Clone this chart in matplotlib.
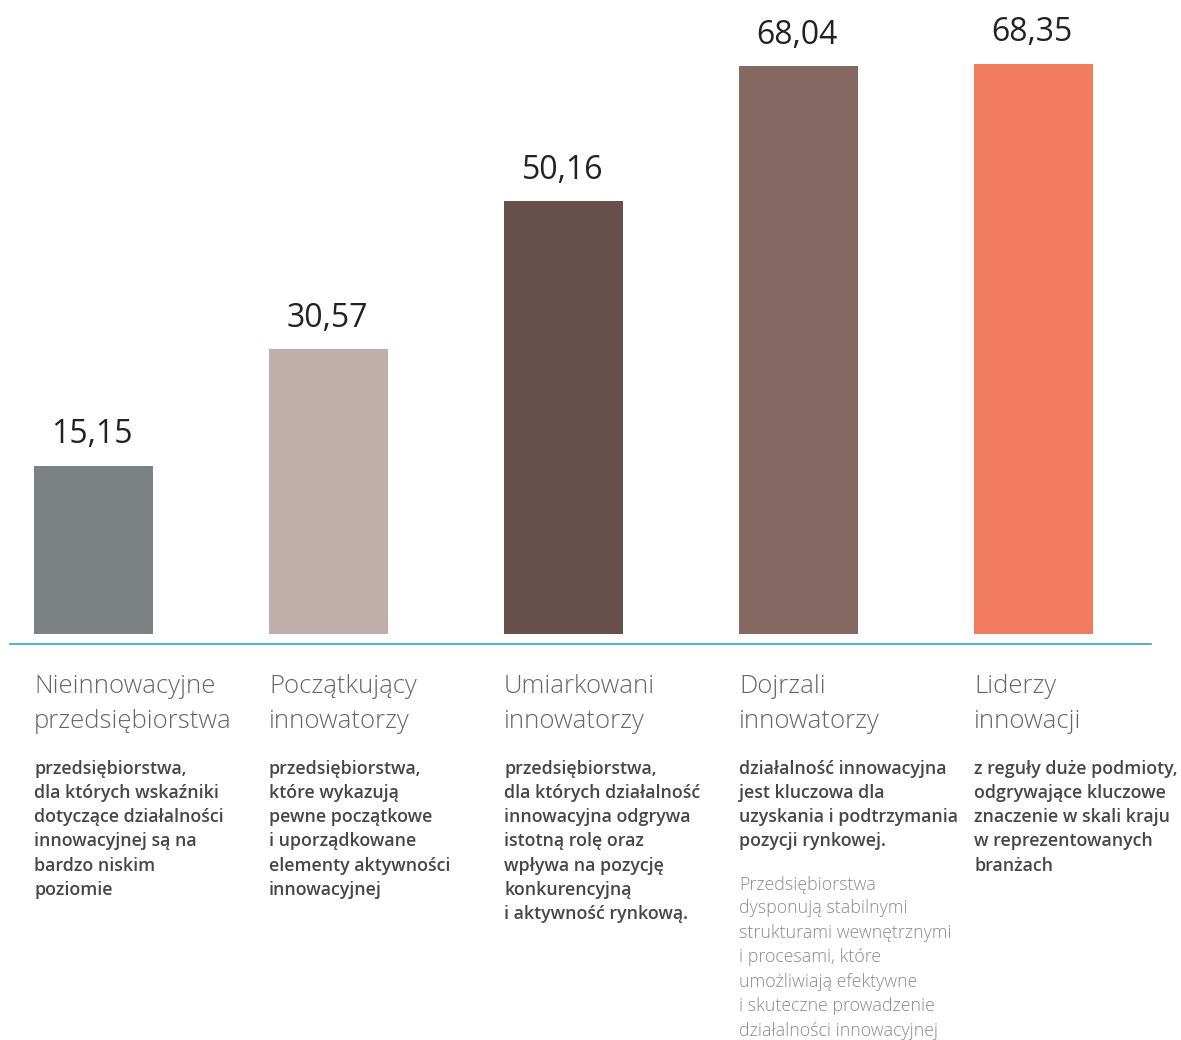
import matplotlib
matplotlib.use("Agg")
import matplotlib.pyplot as plt
from matplotlib.lines import Line2D

# ---- data ----
categories = ["Nieinnowacyjne\nprzedsiębiorstwa", "Początkujący\ninnowatorzy",
              "Umiarkowani\ninnowatorzy", "Dojrzali\ninnowatorzy", "Liderzy\ninnowacji"]
values = [15.15, 30.57, 50.16, 68.04, 68.35]
value_labels = ["15,15", "30,57", "50,16", "68,04", "68,35"]
descriptions = [
    "przedsiębiorstwa,\ndla których wskaźniki\ndotyczące działalności\ninnowacyjnej są na\nbardzo niskim\npoziomie",
    "przedsiębiorstwa,\nktóre wykazują\npewne początkowe\ni uporządkowane\nelementy aktywności\ninnowacyjnej",
    "przedsiębiorstwa,\ndla których działalność\ninnowacyjna odgrywa\nistotną rolę oraz\nwpływa na pozycję\nkonkurencyjną\ni aktywność rynkową.",
    "działalność innowacyjna\njest kluczowa dla\nuzyskania i podtrzymania\npozycji rynkowej.",
    "z reguły duże podmioty,\nodgrywające kluczowe\nznaczenie w skali kraju\nw reprezentowanych\nbranżach",
]
extra_note = {3: "Przedsiębiorstwa\ndysponują stabilnymi\nstrukturami wewnętrznymi\ni procesami, które\numożliwiają efektywne\ni skuteczne prowadzenie\ndziałalności innowacyjnej"}
colors = ["#7c8284", "#c1adaa", "#67504b", "#866863", "#f27c60"]
BASE = -7.08  # axis starts below zero in the original

W, H = 1181, 1040
fig = plt.figure(figsize=(W / 100, H / 100), dpi=100)
fig.patch.set_facecolor("white")

def fx(px):
    return px / W

def fy(py):
    return 1 - py / H

# axes: bottom at pixel 634, top at pixel 64 (value 68.35)
ax = fig.add_axes([0, fy(634), 1, (634 - 64) / H])
step = 235.0
x0 = 93.6
ax.set_xlim(-x0 / step, (W - x0) / step)
ax.set_ylim(BASE, 68.35)
ax.axis("off")

xs = list(range(len(values)))
heights = [v - BASE for v in values]
ax.bar(xs, heights, bottom=BASE, width=119 / step, color=colors)

FONT = ["Open Sans", "DejaVu Sans"]
for x, v, lab in zip(xs, values, value_labels):
    ax.annotate(lab, (x, v), xytext=(-1, 10.5), textcoords="offset points",
                ha="center", va="bottom", fontsize=23, color="#222222",
                family=FONT, annotation_clip=False)

# blue baseline
fig.add_artist(Line2D([fx(10), fx(1151)], [fy(644), fy(644)], color="#3a9fd0", lw=1.2))

for i, (cat, desc) in enumerate(zip(categories, descriptions)):
    left = fx(34 + step * i)
    fig.text(left, fy(674), cat, ha="left", va="top", fontsize=18.5,
             color="#666666", family=FONT, fontweight="light", linespacing=1.5)
    fig.text(left, fy(760), desc, ha="left", va="top", fontsize=12.8,
             color="#464646", family=FONT, fontweight="semibold", linespacing=1.44)
    if i in extra_note:
        fig.text(left, fy(875), extra_note[i], ha="left", va="top", fontsize=12.8,
                 color="#8a8a8a", family=FONT, fontweight="light", linespacing=1.46)

fig.savefig("out.png", dpi=100, facecolor="white")
